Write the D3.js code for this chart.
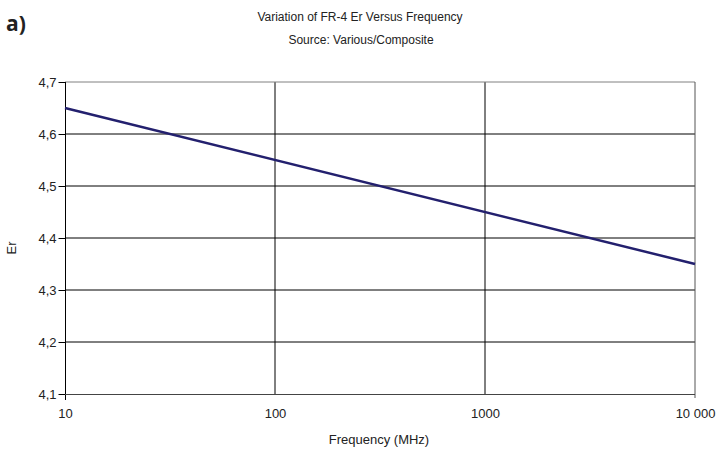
<!DOCTYPE html>
<html>
<head>
<meta charset="utf-8">
<script src="https://cdn.jsdelivr.net/npm/d3@7"></script>
<style>
  body { margin: 0; background: #fff; }
  text { font-family: "Liberation Sans", Arial, sans-serif; fill: #222; }
</style>
</head>
<body>
<script>
// data
var freq = [10, 10000];
var er = [4.65, 4.35];
var yTicks = [4.1, 4.2, 4.3, 4.4, 4.5, 4.6, 4.7];
var xTicks = [10, 100, 1000, 10000];
var xTickLabels = ["10", "100", "1000", "10 000"];

var w = 717, h = 449;
var margin = {left: 65, right: 22, top: 82, bottom: 55};

var svg = d3.select("body").append("svg")
    .attr("width", w)
    .attr("height", h);

var x = d3.scaleLog().domain([10, 10000]).range([margin.left, w - margin.right]);
var y = d3.scaleLinear().domain([4.1, 4.7]).range([h - margin.bottom, margin.top]);

// horizontal grid
svg.selectAll("line.hgrid")
    .data(yTicks.slice(1, -1))
    .enter().append("line")
    .attr("x1", x(10)).attr("x2", x(10000))
    .attr("y1", function(d) { return y(d); })
    .attr("y2", function(d) { return y(d); })
    .attr("stroke", "#000").attr("stroke-width", 1);

// vertical grid
svg.selectAll("line.vgrid")
    .data(xTicks.slice(1, -1))
    .enter().append("line")
    .attr("x1", function(d) { return x(d); })
    .attr("x2", function(d) { return x(d); })
    .attr("y1", y(4.7)).attr("y2", y(4.1))
    .attr("stroke", "#000").attr("stroke-width", 1);

// frame top / right (grey)
svg.append("line")
    .attr("x1", x(10)).attr("x2", x(10000))
    .attr("y1", y(4.7)).attr("y2", y(4.7))
    .attr("stroke", "#808080");
svg.append("line")
    .attr("x1", x(10000)).attr("x2", x(10000))
    .attr("y1", y(4.7)).attr("y2", y(4.1) + 4)
    .attr("stroke", "#555");

// y axis
var yAxis = d3.axisLeft(y)
    .tickValues(yTicks)
    .tickSize(7)
    .tickPadding(2)
    .tickFormat(function(d) { return d3.format(".1f")(d).replace(".", ","); });
var gy = svg.append("g")
    .attr("transform", "translate(" + (x(10) + 0.5) + ",0)")
    .call(yAxis);
gy.select(".domain").remove();
gy.append("line")
    .attr("x1", 0).attr("x2", 0)
    .attr("y1", y(4.7)).attr("y2", y(4.1) + 6)
    .attr("stroke", "#000");
gy.selectAll("text")
    .style("font-size", "13px")
    .style("font-family", "Liberation Sans, Arial, sans-serif")
    .attr("fill", "#222");

// x axis
var xAxis = d3.axisBottom(x)
    .tickValues(xTicks)
    .tickSize(0)
    .tickPadding(14)
    .tickFormat(function(d, i) { return xTickLabels[i]; });
var gx = svg.append("g")
    .attr("transform", "translate(0," + (y(4.1) + 0.5) + ")")
    .call(xAxis);
gx.select(".domain").remove();
gx.append("line")
    .attr("x1", x(10)).attr("x2", x(10000))
    .attr("y1", 0).attr("y2", 0)
    .attr("stroke", "#444");
gx.selectAll("text")
    .style("font-size", "13px")
    .style("font-family", "Liberation Sans, Arial, sans-serif")
    .attr("fill", "#222");

// series line
var line = d3.line()
    .x(function(d, i) { return x(freq[i]); })
    .y(function(d) { return y(d); });
svg.append("path")
    .datum(er)
    .attr("d", line)
    .attr("fill", "none")
    .attr("stroke", "#23206e")
    .attr("stroke-width", 2.5);

// titles
svg.append("text")
    .attr("x", 360).attr("y", 21)
    .attr("text-anchor", "middle")
    .style("font-size", "12px")
    .text("Variation of FR-4 Er Versus Frequency");
svg.append("text")
    .attr("x", 361).attr("y", 44)
    .attr("text-anchor", "middle")
    .style("font-size", "12px")
    .text("Source: Various/Composite");

svg.append("text")
    .attr("x", 6).attr("y", 31)
    .style("font-family", "Open Sans, sans-serif")
    .style("font-weight", "bold")
    .style("font-size", "21px")
    .text("a)");

// axis labels
svg.append("text")
    .attr("x", 379).attr("y", 444)
    .attr("text-anchor", "middle")
    .style("font-size", "13px")
    .text("Frequency (MHz)");
svg.append("text")
    .attr("transform", "translate(16," + 248 + ") rotate(-90)")
    .attr("text-anchor", "middle")
    .style("font-size", "13px")
    .text("Er");
</script>
</body>
</html>
